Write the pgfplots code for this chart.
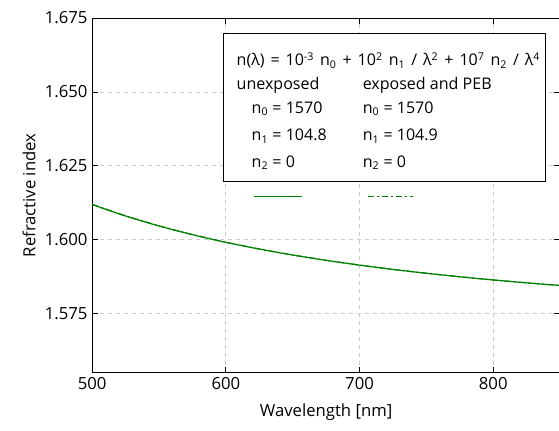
\documentclass[border=0pt]{standalone}
\usepackage{fontspec}
\setmainfont{Open Sans}
\usepackage{pgfplots}
\pgfplotsset{compat=1.18}
\usetikzlibrary{calc}
\definecolor{mgreen}{rgb}{0,0.5,0}

\begin{document}
\begin{tikzpicture}
\begin{axis}[
    scale only axis,
    width=350.25pt, height=265.5pt,
    xmin=500, xmax=850,
    ymin=1.555, ymax=1.675,
    xtick={500,600,700,800},
    ytick={1.575,1.600,1.625,1.650,1.675},
    yticklabel style={/pgf/number format/.cd,fixed,fixed zerofill,precision=3},
    /pgf/number format/assume math mode=true,
    tick align=inside,
    major tick length=4.5pt,
    tick style={black, line width=0.6pt},
    axis line style={black, line width=0.6pt},
    grid=major,
    grid style={dashed, gray!40, line width=0.6pt},
    tick label style={font=\fontsize{12.5}{14}\selectfont},
    label style={font=\fontsize{12.5}{14}\selectfont},
    xlabel={Wavelength [nm]},
    ylabel={Refractive index},
    xlabel style={yshift=-4pt},
    ylabel style={yshift=0pt},
    clip=true]
  % exposed and PEB
  \addplot[mgreen, line width=0.9pt, dash pattern=on 5pt off 2pt on 1.5pt off 2pt] coordinates {
    (500,1.61196)(525,1.608059)(550,1.604678)(575,1.601728)(600,1.599139)
    (625,1.596854)(650,1.594828)(675,1.593023)(700,1.591408)(725,1.589957)
    (750,1.588649)(775,1.587465)(800,1.586391)(825,1.585412)(850,1.584519)};
  % unexposed
  \addplot[mgreen, line width=0.9pt] coordinates {
    (500,1.61192)(510,1.610292)(520,1.608757)(530,1.607309)(540,1.605940)
    (550,1.604645)(560,1.603418)(570,1.602256)(580,1.601153)(590,1.600106)
    (600,1.599111)(620,1.597263)(640,1.595586)(660,1.594059)(680,1.592664)
    (700,1.591388)(720,1.590216)(740,1.589138)(760,1.588144)(780,1.587226)
    (800,1.586375)(825,1.585398)(850,1.584505)};
  % legend box
  \draw[black, line width=0.6pt, fill=white] (axis cs:598.1,1.6196) rectangle (axis cs:839.3,1.6699);
  \addplot[mgreen, line width=0.9pt, forget plot] coordinates {(621.3,1.6145)(656.6,1.6145)};
  \addplot[mgreen, line width=0.9pt, forget plot, dash pattern=on 5pt off 2pt on 1.5pt off 2pt] coordinates {(706,1.6145)(739.7,1.6145)};
  \begin{scope}[every node/.style={anchor=base west, inner sep=0pt, font=\fontsize{12}{14}\selectfont}]
    \node at (axis cs:607.9,1.65878) {\spaceskip=0.37em n(λ) = 10\textsuperscript{-3} n\textsubscript{0} + 10\textsuperscript{2} n\textsubscript{1} / λ\textsuperscript{2} + 10\textsuperscript{7} n\textsubscript{2} / λ\textsuperscript{4}};
    \node at (axis cs:607.9,1.65075) {unexposed};
    \node at (axis cs:702.2,1.65075) {exposed and PEB};
    \node at (axis cs:619.1,1.64279) {n\textsubscript{0} = 1570};
    \node at (axis cs:702.2,1.64279) {n\textsubscript{0} = 1570};
    \node at (axis cs:619.1,1.63350) {n\textsubscript{1} = 104.8};
    \node at (axis cs:702.2,1.63350) {n\textsubscript{1} = 104.9};
    \node at (axis cs:619.1,1.62442) {n\textsubscript{2} = 0};
    \node at (axis cs:702.2,1.62442) {n\textsubscript{2} = 0};
  \end{scope}
\end{axis}
\pgfresetboundingbox
\path[use as bounding box] ($(current axis.south west)+(-69pt,-43.5pt)$) rectangle ($(current axis.north east)+(-0.8pt,13.5pt)$);
\end{tikzpicture}
\end{document}
